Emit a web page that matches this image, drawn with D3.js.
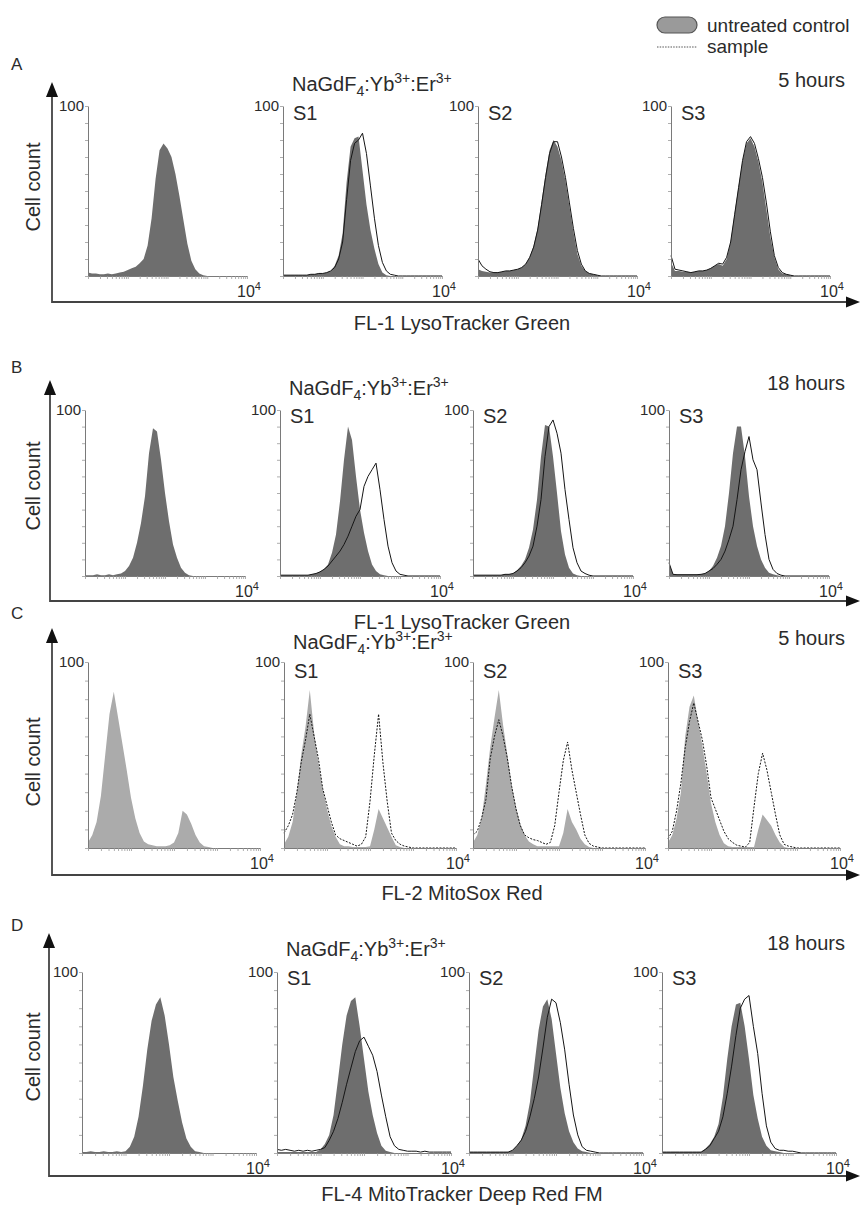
<!DOCTYPE html>
<html><head><meta charset="utf-8">
<script src="https://cdn.jsdelivr.net/npm/d3@7"></script>
<style>body{margin:0;background:#fff;} svg{display:block;font-family:"Liberation Sans",Arial,sans-serif;}</style>
</head><body><svg id="chart" width="861" height="1206"></svg>
<script>
// ---------- DATA ----------
// histogram bin centres, log10 of fluorescence intensity (10^0 .. 10^4)
const bins = [0,0.1,0.2,0.3,0.4,0.5,0.6,0.7,0.8,0.9,1.0,1.1,1.2,1.3,1.4,1.5,1.6,1.7,1.8,1.9,2.0,2.1,2.2,2.3,2.4,2.5,2.6,2.7,2.8,2.9,3.0,3.1,3.2,3.3,3.4,3.5,3.6,3.7,3.8,3.9,4.0];
const yTicks = [0,10,20,30,40,50,60,70,80,90,100];
const yTopLabel = "100";
const xEndBase = "10", xEndExp = "4";
const rowLetters = ["A","B","C","D"];
const rowHours = ["5 hours","18 hours","5 hours","18 hours"];
const rowXLabels = ["FL-1 LysoTracker Green","FL-1 LysoTracker Green","FL-2 MitoSox Red","FL-4 MitoTracker Deep Red FM"];
const sampleNames = ["","S1","S2","S3"];
const yLabel = "Cell count";
const legendLabels = ["untreated control","sample"];

// Row A: FL-1 LysoTracker Green, 5 h
const ctrlA0 = [2,1.5,1.5,1,1,1.5,1,1.5,2,2.5, 3.5,4.5,5.5,7.5,10,18,34,57,74,78, 75,70,60,47,33,19,9,4,1.5,0.5, 0,0,0,0,0,0,0,0,0,0, 0];
const ctrlA1 = [0.5,0.5,0.5,0.5,0.5,0.5,0.5,1,1,1.5, 1.5,2,3,6,12,25,55,76,81,82, 62,42,27,16,7,2,0.5,0,0,0, 0,0,0,0,0,0,0,0,0,0, 0];
const sampA1 = [0.5,0.5,0.5,0.5,0.5,0.5,0.5,1,1,1.5, 1.5,2,3,5,10,20,45,68,78,80, 84,72,53,34,18,8,3,1,0.5,0, 0,0,0,0,0,0,0,0,0,0, 0];
const ctrlA2 = [4,3,2.5,2,2,2,2.5,3,3,3.5, 4,5,7,11,18,28,44,60,74,80, 76,68,56,41,26,13,6,3,1.5,1, 0.5,0,0,0,0,0,0,0,0,0, 0];
const sampA2 = [10,6,4,2.5,2,2,2.5,3,3,3.5, 4,5,7,11,17,27,42,58,72,79, 79,70,58,43,28,15,7,3,1.5,1, 0.5,0,0,0,0,0,0,0,0,0, 0];
const ctrlA3 = [8,3,3,2.5,2.5,2,2.5,3,3,3.5, 4.5,6,7,6,10,20,37,53,68,78, 81,76,67,55,39,23,11,4,1.5,1, 0.5,0,0,0,0,0,0,0,0,0, 0];
const sampA3 = [12,4,3.5,3,2.5,2,2.5,3,3,3.5, 4.5,6,7.5,7,11,20,36,52,68,79, 82,78,69,58,43,26,12,5,2,1, 0.5,0,0,0,0,0,0,0,0,0, 0];
// Row B: FL-1 LysoTracker Green, 18 h
const ctrlB0 = [0.5,0.5,0.5,1,0.5,0.5,1,0.5,1,1.5, 3,6,11,20,32,48,74,89,87,70, 50,33,19,11,5,2,0.5,0,0,0, 0,0,0,0,0,0,0,0,0,0, 0];
const ctrlB1 = [0.5,0.5,0.5,0.5,0.5,0.5,0.5,0.5,1,1.5, 2.5,4,7,14,25,45,70,90,82,60, 40,26,15,7,3,1,0.5,0,0,0, 0,0,0,0,0,0,0,0,0,0, 0];
const sampB1 = [0.5,0.5,0.5,0.5,0.5,0.5,0.5,0.5,1,1.5, 2.5,4,6,9,12,15,19,24,30,36, 40,54,60,64,68,52,34,18,8,3, 1,0.5,0,0,0,0,0,0,0,0, 0];
const ctrlB2 = [0.5,0.5,0.5,0.5,0.5,0.5,0.5,0.5,1,1, 1.5,3.5,6,10,17,28,46,72,91,90, 72,50,27,13,5,1.5,0.5,0,0,0, 0,0,0,0,0,0,0,0,0,0, 0];
const sampB2 = [0.5,0.5,0.5,0.5,0.5,0.5,0.5,0.5,1,1, 1.5,3,5,8,12,18,30,46,72,90, 94,86,74,52,34,17,8,3,1.5,0.5, 0,0,0,0,0,0,0,0,0,0, 0];
const ctrlB3 = [8,1,0.8,0.8,0.8,0.8,0.8,0.8,1,1.5, 3,6,11,18,30,50,74,90,90,72, 48,30,18,10,5,2,1,0.5,0,0, 0,0,0,0,0,0,0,0,0,0, 0];
const sampB3 = [8,1,0.8,0.8,0.8,0.8,0.8,0.8,1,1.5, 3,4.5,7,10,15,22,30,46,64,75, 84,70,64,44,25,10,4,1.5,0.5,0, 0,0,0,0,0,0,0,0,0,0, 0];
// Row C: FL-2 MitoSox Red, 5 h
const ctrlC0 = [3,7,14,28,50,72,84,70,56,42, 27,16,8,3.5,2,1.5,1,1,1,1.5, 3,8,20,18,13,7,3,1,0.5,0, 0,0,0,0,0,0,0,0,0,0, 0];
const ctrlC1 = [2,6,14,30,50,65,85,62,46,32, 21,12,6,2,1,1,0.5,0.5,0.5,0.5, 1,10,21,16,11,6,1.5,0.5,0,0, 0,0,0,0,0,0,0,0,0,0, 0];
const sampC1 = [8,12,18,30,46,58,72,60,48,32, 23,14,7,5,4,3,2,1,2,6, 25,50,72,46,25,8,4,2,1,0.5, 0,0,0,0,0,0,0,0,0,0, 0];
const ctrlC2 = [3,7,16,34,54,70,85,66,50,34, 22,13,7,3.5,2,1,1,1,1,1, 1,8,21,14,10,5,2,0.5,0,0, 0,0,0,0,0,0,0,0,0,0, 0];
const sampC2 = [7,9,16,26,48,60,69,60,48,33, 21,12,7,5.5,4.5,4,3,2,3,12, 30,47,57,42,30,18,7,2.5,1,0.5, 0,0,0,0,0,0,0,0,0,0, 0];
const ctrlC3 = [3,7,16,30,60,76,82,68,55,40, 24,14,7,2.5,1,0.5,0.5,0.5,0.5,0.5, 0.5,10,18,15,12,7,3,0.5,0,0, 0,0,0,0,0,0,0,0,0,0, 0];
const sampC3 = [5,9,20,35,54,68,78,68,58,44, 27,21,15,9,5,3,1.5,1,0.5,3, 22,40,51,42,30,18,7,2,1,0.5, 0,0,0,0,0,0,0,0,0,0, 0];
// Row D: FL-4 MitoTracker Deep Red FM, 18 h
const ctrlD0 = [0.5,0.5,1,0.5,0.5,1,0.5,0.5,1,0.5, 1,3.5,9,20,37,57,73,82,86,76, 60,42,29,17,8,3.5,1,0.5,0,0, 0,0,0,0,0,0,0,0,0,0, 0];
const ctrlD1 = [0.5,0.5,0.5,0.5,0.5,0.5,0.5,0.5,0.5,0.5, 2,5,10,21,40,60,76,84,86,70, 52,34,21,11,4,1.2,0.5,0,0,0, 0,0,0,0,0,0,0,0,0,0, 0];
const sampD1 = [2,1.5,2,1.5,1,1.5,1,1.5,1,1.5, 2,3,7,12,19,28,38,47,56,62, 64,59,54,45,32,20,9,4,2,1.5, 1,1,1,0.5,1,0.5,0.5,0.5,0.5,0.5, 0.5];
const ctrlD2 = [0.5,0.5,0.5,0.5,0.5,0.5,0.5,0.5,0.5,0.5, 1.5,4,7.5,15,28,48,68,81,85,74, 55,36,22,12,6,2.5,1,0.5,0,0, 0,0,0,0,0,0,0,0,0,0, 0];
const sampD2 = [0.5,0.5,0.5,0.5,0.5,0.5,0.5,0.5,0.5,0.5, 1.5,4,7,12,20,30,42,58,75,85, 83,72,57,38,21,10,3.5,1.5,1,0.5, 0,0,0,0,0,0,0,0,0,0, 0];
const ctrlD3 = [0.5,0.5,0.5,0.5,0.5,0.5,0.5,0.5,0.5,0.5, 2.5,5,9,16,31,52,70,82,83,70, 52,32,19,9,4,1.5,1,0.5,0,0, 0,0,0,0,0,0,0,0,0,0, 0];
const sampD3 = [0.5,0.5,0.5,0.5,0.5,0.5,0.5,0.5,0.5,0.5, 2,4,8,12,20,33,48,65,80,85, 87,70,55,33,15,6,2.5,1.5,1.5,1, 1,0.5,0,0,0,0,0,0,0,0, 0];

const controls = [[ctrlA0,ctrlA1,ctrlA2,ctrlA3],[ctrlB0,ctrlB1,ctrlB2,ctrlB3],[ctrlC0,ctrlC1,ctrlC2,ctrlC3],[ctrlD0,ctrlD1,ctrlD2,ctrlD3]];
const samples = [[null,sampA1,sampA2,sampA3],[null,sampB1,sampB2,sampB3],[null,sampC1,sampC2,sampC3],[null,sampD1,sampD2,sampD3]];

// ---------- LAYOUT / STYLE ----------
const layout = [
 {top:106, base:276, x0:[88,283,478,671], w:159, ax:52, tip:82,  hy:302,  letterY:70,  titleY:91,  hoursY:87,  sY:120, xlabY:330,  cellY:187,  fill:"#6e6e6e", dash:null},
 {top:410, base:576, x0:[85,280,473,669], w:160, ax:50, tip:380, hy:601,  letterY:373, titleY:395, hoursY:390, sY:423, xlabY:629,  cellY:486,  fill:"#6e6e6e", dash:null},
 {top:662, base:848, x0:[88,284,473,668], w:172, ax:52, tip:628, hy:875,  letterY:619, titleY:649, hoursY:645, sY:678, xlabY:900,  cellY:762,  fill:"#ababab", dash:"2,1.4"},
 {top:972, base:1153,x0:[82,277,469,662], w:174, ax:49, tip:933, hy:1176, letterY:931, titleY:956, hoursY:950, sY:985, xlabY:1201, cellY:1057, fill:"#6e6e6e", dash:null}
];
const txt = "#2b2b2b";
const svg = d3.select("#chart");

layout.forEach((L, r) => {
  const g = svg.append("g");
  // panels
  L.x0.forEach((x0, p) => {
    const x = d3.scaleLog().domain([1, 1e4]).range([x0, x0 + L.w]);
    const y = d3.scaleLinear().domain([0, 100]).range([L.base, L.top]);
    const area = d3.area().x((d, i) => x(Math.pow(10, bins[i]))).y0(y(0)).y1(d => y(d));
    const line = d3.line().x((d, i) => x(Math.pow(10, bins[i]))).y(d => y(d));
    g.append("path").attr("d", area(controls[r][p])).attr("fill", L.fill);
    if (samples[r][p]) {
      g.append("path").attr("d", line(samples[r][p])).attr("fill", "none")
        .attr("stroke", "#151515").attr("stroke-width", 1)
        .attr("stroke-dasharray", L.dash);
    }
    const ya = g.append("g").attr("transform", `translate(${x0},0)`)
      .call(d3.axisLeft(y).tickValues(yTicks).tickSize(3).tickSizeOuter(0).tickFormat(""));
    const xa = g.append("g").attr("transform", `translate(0,${L.base})`)
      .call(d3.axisBottom(x).tickSize(3).tickSizeOuter(0).tickFormat(""));
    [ya, xa].forEach(a => {
      a.select(".domain").attr("stroke", "#7a7a7a").attr("stroke-width", 1);
      a.selectAll(".tick line").attr("stroke", "#999").attr("stroke-width", 0.8);
    });
    g.append("text").attr("x", x0 - 4).attr("y", L.top + 5).attr("text-anchor", "end")
      .attr("font-size", 15).attr("fill", txt).text(yTopLabel);
    const t = g.append("text").attr("x", x0 + L.w - 10).attr("y", L.base + 21).attr("fill", txt);
    t.append("tspan").attr("font-size", 16).text(xEndBase);
    t.append("tspan").attr("font-size", 11).attr("dy", -7).text(xEndExp);
    if (sampleNames[p]) {
      g.append("text").attr("x", x0 + 10).attr("y", L.sY).attr("font-size", 20)
        .attr("fill", txt).text(sampleNames[p]);
    }
  });
  // title
  const tt = g.append("text").attr("x", L.x0[1] + 9).attr("y", L.titleY).attr("font-size", 20).attr("fill", txt);
  tt.append("tspan").text("NaGdF");
  tt.append("tspan").attr("font-size", 14).attr("dy", 5).text("4");
  tt.append("tspan").attr("dy", -5).text(":Yb");
  tt.append("tspan").attr("font-size", 14).attr("dy", -8).text("3+");
  tt.append("tspan").attr("dy", 8).text(":Er");
  tt.append("tspan").attr("font-size", 14).attr("dy", -8).text("3+");
  // hours
  g.append("text").attr("x", 845).attr("y", L.hoursY).attr("text-anchor", "end")
    .attr("font-size", 20).attr("fill", txt).text(rowHours[r]);
  // row letter
  g.append("text").attr("x", 11).attr("y", L.letterY).attr("font-size", 17).attr("fill", txt).text(rowLetters[r]);
  // y label
  g.append("text").attr("transform", `translate(40,${L.cellY}) rotate(-90)`).attr("text-anchor", "middle")
    .attr("font-size", 20).attr("fill", txt).text(yLabel);
  // x label
  g.append("text").attr("x", 462).attr("y", L.xlabY).attr("text-anchor", "middle")
    .attr("font-size", 20).attr("fill", txt).text(rowXLabels[r]);
  // big axes with arrows
  g.append("path").attr("d", `M${L.ax},${L.tip + 10}V${L.hy}H848`).attr("fill", "none")
    .attr("stroke", "#444").attr("stroke-width", 1.8);
  g.append("path").attr("d", `M${L.ax},${L.tip}L${L.ax - 6},${L.tip + 15}L${L.ax + 6},${L.tip + 15}Z`).attr("fill", "#111");
  g.append("path").attr("d", `M860,${L.hy}L846,${L.hy - 5.5}L846,${L.hy + 5.5}Z`).attr("fill", "#111");
});

// legend
const lg = svg.append("g");
lg.append("rect").attr("x", 657).attr("y", 17).attr("width", 40).attr("height", 16).attr("rx", 8)
  .attr("fill", "#9a9a9a").attr("stroke", "#555").attr("stroke-width", 1.2);
lg.append("line").attr("x1", 657).attr("x2", 697).attr("y1", 47).attr("y2", 47)
  .attr("stroke", "#555").attr("stroke-width", 1).attr("stroke-dasharray", "1.5,1.2");
lg.append("text").attr("x", 707).attr("y", 32).attr("font-size", 19).attr("fill", txt).text(legendLabels[0]);
lg.append("text").attr("x", 707).attr("y", 53).attr("font-size", 19).attr("fill", txt).text(legendLabels[1]);
</script></body></html>
